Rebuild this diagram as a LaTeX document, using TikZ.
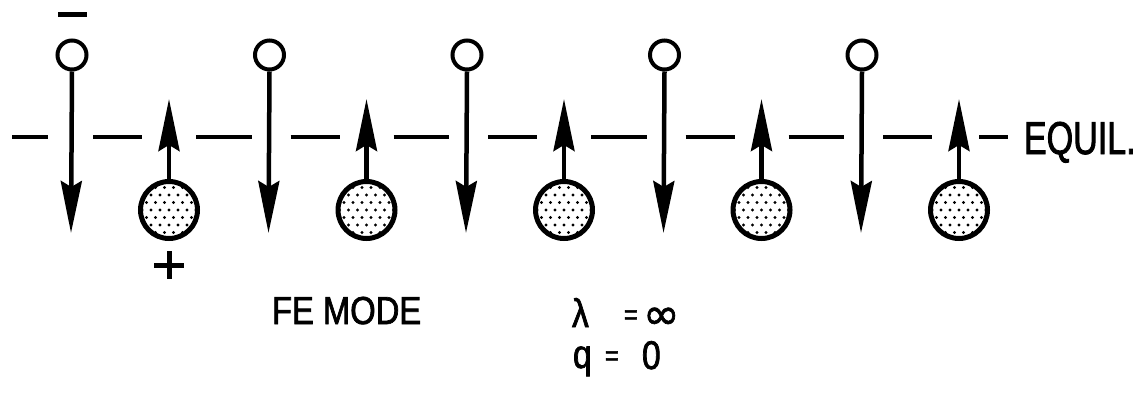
\documentclass[tikz,border=0pt]{standalone}
\usepackage{fontspec}
\newfontfamily\letterA[FakeStretch=0.74,FakeBold=1.8]{Liberation Sans}
\newfontfamily\letterB[FakeStretch=0.84,FakeBold=1.8]{Liberation Sans}
\newfontfamily\symfont[FakeBold=1.5]{DejaVu Sans}
\usetikzlibrary{arrows.meta}
\begin{document}
\begin{tikzpicture}[x=1pt,y=-1pt,
  opencirc/.style={circle, draw, line width=4pt, minimum size=29pt, inner sep=0pt},
  ion/.style={circle, draw, line width=5pt, minimum size=57pt, inner sep=0pt,
    path picture={
      \foreach \j [evaluate=\j as \o using {Mod(\j,2)*4.5}] in {-4,...,4}
        \foreach \i in {-4,...,4}
          \fill[shift={(path picture bounding box.center)}] ({\i*9+\o},{\j*7.5}) circle (1.7pt);
    }},
  vec/.style={line width=4.5pt, -{Stealth[length=52pt,width=21pt,inset=6pt]}},
  eqline/.style={line width=4pt},
  sign/.style={line width=5pt},
  txt/.style={anchor=base west, inner sep=0pt, outer sep=0pt}
]
\useasboundingbox (0,0) rectangle (1148,393);

% equilibrium dashed line
\draw[eqline] (12,137) -- (48,137);
\foreach \k in {0,...,3} {
  \draw[eqline] ({72+197.5*\k+21},137) -- ({169+197.5*\k-27},137);
  \draw[eqline] ({169+197.5*\k+27},137) -- ({72+197.5*(\k+1)-18},137);
}
\draw[eqline] ({72+197.5*4+21},137) -- ({169+197.5*4-27},137);
\draw[eqline] (979,137) -- (1008,137);

% particles and displacement arrows
\foreach \k in {1,...,5} {
  \node[opencirc] (o\k) at ({72+197.5*(\k-1)},55) {};
  \coordinate (d\k) at ({71+197.5*(\k-1)},233);
  \draw[vec] (o\k.south) -- (d\k);
  \node[ion] (f\k) at ({169+197.5*(\k-1)},210) {};
  \coordinate (u\k) at ({169+197.5*(\k-1)},99);
  \draw[vec] (f\k.north) -- (u\k);
}

% charge signs
\draw[sign] (58,15) -- (87,15);
\draw[sign] (154,265) -- (184,265) (169,251) -- (169,279);

% labels
\node[txt, font=\letterA\fontsize{46}{46}\selectfont] (equil) at (1024,154) {EQUIL.};
\node[txt, font=\letterB\fontsize{39}{39}\selectfont] (mode) at (272,324) {FE MODE};
\node[txt, font=\letterB\fontsize{40}{40}\selectfont, text height=30pt, text depth=0pt] (lam) at (572,327) {λ};
\node[txt, font=\letterB\fontsize{28}{28}\selectfont, text height=14pt, text depth=0pt] (ieq) at (624,324) {=};
\node[txt, font=\symfont\fontsize{44}{44}\selectfont, text height=22pt, text depth=0pt] (inf) at (643,329) {∞};
\node[txt, font=\letterB\fontsize{40}{40}\selectfont, text height=22pt, text depth=8pt] (q) at (573,368) {q};
\node[txt, font=\letterB\fontsize{28}{28}\selectfont, text height=14pt, text depth=0pt] (qeq) at (605,365) {=};
\node[txt, font=\letterB\fontsize{40}{40}\selectfont, text height=29pt, text depth=0pt] (zero) at (642,369) {0};
\end{tikzpicture}
\end{document}
